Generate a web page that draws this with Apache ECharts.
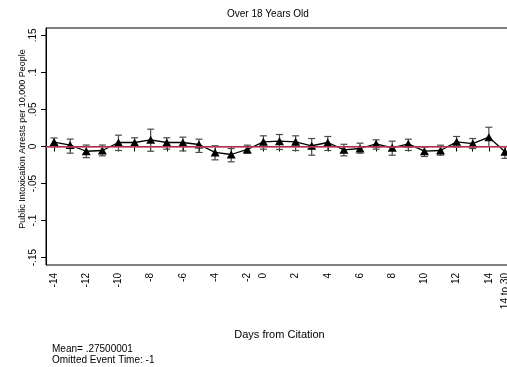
<!DOCTYPE html>
<html>
<head>
<meta charset="utf-8">
<script src="https://cdn.jsdelivr.net/npm/echarts@6/dist/echarts.min.js"></script>
<style>
  html, body { margin: 0; padding: 0; background: #fff; }
  #chart { width: 507px; height: 367px; }
</style>
</head>
<body>
<div id="chart"></div>
<script>
// Event-time categories (event time -1 is the omitted reference period)
const categories = ['-14','-13','-12','-11','-10','-9','-8','-7','-6','-5','-4','-3','-2',
  '0','1','2','3','4','5','6','7','8','9','10','11','12','13','14','14 to 30'];

// Point estimates and 95% confidence bounds
const estimate = [0.006, 0.002, -0.0064, -0.0054, 0.0054, 0.0054, 0.009, 0.0054, 0.0054, 0.0027,
  -0.008, -0.0108, -0.004, 0.0063, 0.0072, 0.0063, 0.001, 0.0054, -0.0045, -0.0027,
  0.0036, -0.0018, 0.0036, -0.0063, -0.0054, 0.0063, 0.004, 0.0126, -0.0072];
const ciUpper = [0.0115, 0.010, 0.002, 0.002, 0.0153, 0.0118, 0.0234, 0.0118, 0.0126, 0.0099,
  0.001, -0.0027, 0.0018, 0.0144, 0.0162, 0.0144, 0.0108, 0.0135, 0.003, 0.0045,
  0.009, 0.0072, 0.0099, -0.001, 0.0018, 0.0135, 0.0108, 0.026, 0.0];
const ciLower = [-0.0007, -0.009, -0.015, -0.0126, -0.0054, 0.0, -0.0064, -0.0036, -0.006, -0.008,
  -0.018, -0.0207, -0.009, -0.0036, -0.004, -0.0054, -0.0117, -0.0054, -0.0126, -0.009,
  -0.0036, -0.0117, -0.0054, -0.0135, -0.0117, -0.001, -0.0027, 0.0, -0.016];

// Y-axis tick values and their labels
const yTicks = [-0.15, -0.1, -0.05, 0, 0.05, 0.1, 0.15];
const yTickLabels = ['-.15', '-.1', '-.05', '0', '.05', '.1', '.15'];

// X-axis labels that are printed
const xShown = ['-14','-12','-10','-8','-6','-4','-2','0','2','4','6','8','10','12','14','14 to 30'];

const FONT = '"Liberation Sans", Arial, Helvetica, sans-serif';

const chart = echarts.init(document.getElementById('chart'), null, { renderer: 'canvas' });

const ciData = categories.map((c, i) => [i, ciLower[i], ciUpper[i]]);

chart.setOption({
  backgroundColor: '#ffffff',
  animation: false,
  grid: {
    left: 46, top: 28, width: 467, height: 237,
    containLabel: false,
    outerBoundsMode: 'none',
    show: true, borderColor: '#000', borderWidth: 1, backgroundColor: '#fff'
  },
  xAxis: {
    type: 'category',
    data: categories,
    boundaryGap: true,
    name: 'Days from Citation',
    nameLocation: 'middle',
    nameGap: 64,
    nameTextStyle: { fontFamily: FONT, fontSize: 11, color: '#000' },
    axisLine: { lineStyle: { color: '#000', width: 1 } },
    axisTick: { show: true, interval: 0, alignWithLabel: true, length: 5, lineStyle: { color: '#000' } },
    axisLabel: {
      interval: (idx, val) => xShown.indexOf(val) >= 0,
      rotate: 90,
      margin: 8,
      hideOverlap: false,
      fontFamily: FONT, fontSize: 10, color: '#000'
    },
    splitLine: { show: false }
  },
  yAxis: {
    type: 'value',
    min: -0.16,
    max: 0.16,
    axisLine: { show: true, lineStyle: { color: '#000', width: 1 } },
    axisTick: { show: true, length: 5, customValues: yTicks, lineStyle: { color: '#000' } },
    axisLabel: {
      customValues: yTicks,
      rotate: 90,
      margin: 8,
      formatter: v => {
        const k = yTicks.findIndex(t => Math.abs(t - v) < 1e-9);
        return k >= 0 ? yTickLabels[k] : '';
      },
      fontFamily: FONT, fontSize: 10, color: '#000'
    },
    splitLine: { show: false }
  },
  graphic: [
    { type: 'text', left: 270 - 43, top: 9,
      style: { text: 'Over 18 Years Old', fontFamily: FONT, fontSize: 10, fill: '#000' } },
    { type: 'text', x: 23, y: 139, rotation: Math.PI / 2,
      style: { text: 'Public Intoxication Arrests per 10,000 People', fontFamily: FONT, fontSize: 9,
               fill: '#000', align: 'center', verticalAlign: 'middle' } },
    { type: 'text', left: 52, top: 344,
      style: { text: 'Mean= .27500001', fontFamily: FONT, fontSize: 10, fill: '#000' } },
    { type: 'text', left: 52, top: 355,
      style: { text: 'Omitted Event Time: -1', fontFamily: FONT, fontSize: 10, fill: '#000' } }
  ],
  series: [
    {
      // zero reference line
      type: 'line',
      data: [],
      silent: true,
      z: 1,
      markLine: {
        silent: true,
        symbol: 'none',
        label: { show: false },
        lineStyle: { color: '#d6456a', width: 1.6, type: 'solid' },
        data: [{ yAxis: 0 }]
      }
    },
    {
      // confidence intervals with caps
      type: 'custom',
      data: ciData,
      z: 3,
      renderItem: (params, api) => {
        const x = api.value(0);
        const pHi = api.coord([x, api.value(2)]);
        const pLo = api.coord([x, api.value(1)]);
        const w = 3.5;
        const st = { stroke: '#4a4a4a', lineWidth: 1.2 };
        return {
          type: 'group',
          children: [
            { type: 'line', shape: { x1: pHi[0], y1: pHi[1], x2: pLo[0], y2: pLo[1] }, style: st },
            { type: 'line', shape: { x1: pHi[0] - w, y1: pHi[1], x2: pHi[0] + w, y2: pHi[1] }, style: st },
            { type: 'line', shape: { x1: pLo[0] - w, y1: pLo[1], x2: pLo[0] + w, y2: pLo[1] }, style: st }
          ]
        };
      }
    },
    {
      // point estimates
      type: 'line',
      data: estimate,
      z: 4,
      symbol: 'triangle',
      symbolSize: [9, 8],
      itemStyle: { color: '#000' },
      lineStyle: { color: '#000', width: 1.3 }
    }
  ]
});
</script>
</body>
</html>
